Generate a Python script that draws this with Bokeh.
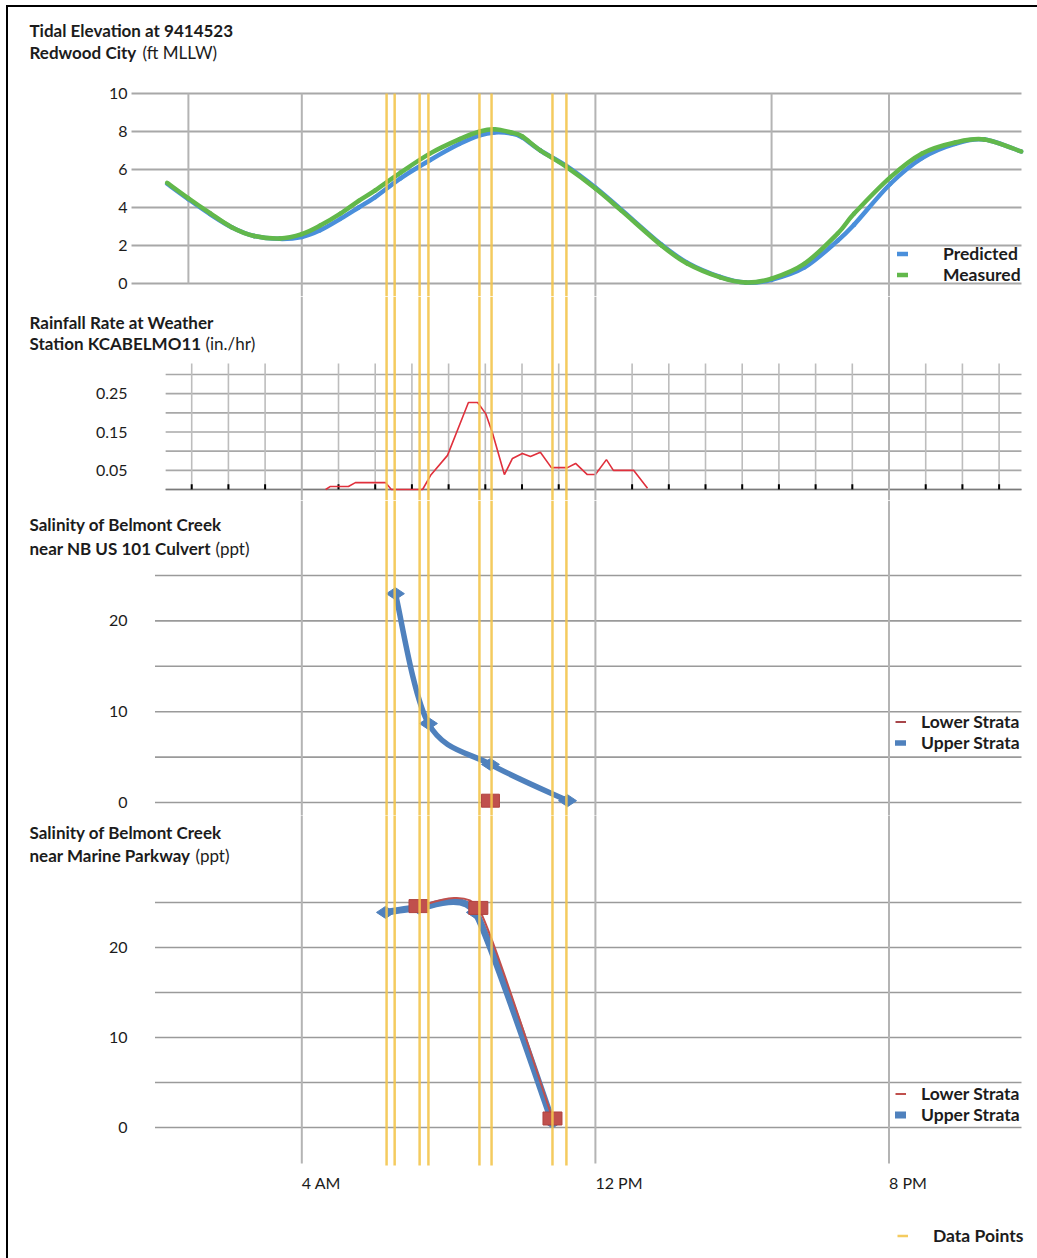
import numpy as np
from bokeh.plotting import figure
from bokeh.layouts import column
from bokeh.models import (Range1d, FixedTicker, Label, Legend, LegendItem, Span,
                          ColumnDataSource, LinearAxis)
from bokeh.embed import file_html
from bokeh.resources import INLINE

# ---------------- data (hours after midnight) ----------------
tide_hours = [0.33, 0.9, 1.5, 2.1, 2.7, 3.4, 4.0, 4.5, 5.05, 5.55, 6.0, 6.7,
              7.5, 8.3, 8.85, 9.25, 9.7, 10.0, 10.5, 11.2, 12.0, 12.7, 13.8, 14.5,
              15.4, 16.1, 16.8, 17.7, 18.6, 19.05, 20.04, 20.9, 21.8, 22.6, 23.6]
tide_measured = [5.3, 4.5, 3.7, 2.95, 2.5, 2.37, 2.6, 3.05, 3.68, 4.35, 4.9, 5.85,
                 6.85, 7.6, 8.0, 8.12, 7.95, 7.75, 7.0, 6.15, 5.0, 3.85, 2.0, 1.05,
                 0.32, 0.05, 0.26, 1.05, 2.63, 3.68, 5.6, 6.84, 7.42, 7.58, 6.95]
tide_predicted = [5.25, 4.45, 3.65, 2.95, 2.5, 2.35, 2.45, 2.8, 3.4, 4.0, 4.55, 5.55,
                  6.5, 7.35, 7.8, 7.95, 7.9, 7.7, 7.0, 6.2, 5.05, 3.9, 2.05, 1.1,
                  0.35, 0.05, 0.2, 0.85, 2.25, 3.1, 5.25, 6.6, 7.35, 7.58, 6.95]

rain_hours = [4.65, 4.78, 5.27, 5.46, 6.28, 6.44, 7.29, 7.51, 7.97, 8.54, 8.79, 9.01,
              9.20, 9.52, 9.74, 10.01, 10.23, 10.5, 10.8, 11.24, 11.46, 11.78, 12.0,
              12.3, 12.49, 13.04, 13.42]
rain_rate = [0.0, 0.008, 0.008, 0.018, 0.018, 0.0, 0.0, 0.037, 0.089, 0.227, 0.227, 0.198,
             0.146, 0.039, 0.081, 0.094, 0.086, 0.097, 0.057, 0.057, 0.068, 0.039, 0.039,
             0.078, 0.05, 0.05, 0.003]

culvert_upper_hours = [6.55, 7.45, 9.14, 11.24]
culvert_upper = [23.0, 8.7, 4.2, 0.2]
culvert_lower_hours = [9.14]
culvert_lower = [0.2]

marine_upper_hours = [6.28, 7.18, 8.73, 10.83]
marine_upper = [23.9, 24.4, 23.9, 0.6]
marine_lower_hours = [7.18, 8.81, 10.83]
marine_lower = [24.6, 24.4, 1.0]

sample_hours = [6.31, 6.53, 7.21, 7.45, 8.84, 9.17, 10.83, 11.21]

time_ticks = [4, 12, 20]
time_labels = ["4 AM", "12 PM", "8 PM"]

tide_ticks = [0, 2, 4, 6, 8, 10]
rain_ticks = [0.05, 0.15, 0.25]
rain_grid = [0, 0.05, 0.1, 0.15, 0.2, 0.25, 0.3]
sal_ticks = [0, 10, 20]
sal_grid = [0, 5, 10, 15, 20, 25]
tide_extra_vlines = [0.91, 16.8]
rain_hour_lines = [h for h in range(1, 24) if h not in time_ticks]

# ---------------- style / geometry ----------------
FONT = "Lato"
TXT = "#1c1c1c"
GRID = "#a8a8a8"
MAIN = "#b4b4b4"
YEL = "#f3c54e"
BLUE = "#4f81bd"
RED = "#c0504d"
FIG_W = 1029
X0, X1 = -3.992, 24.046        # full-width frame
AX_X = -0.64                   # where the value axes sit
GR_END = 23.61                 # right end of grid lines
xr = Range1d(X0, X1)


def smooth(xs, ys, k):
    n = len(xs)
    d = dict(x0=[], y0=[], x1=[], y1=[], cx0=[], cy0=[], cx1=[], cy1=[])
    for i in range(n - 1):
        a = i - 1 if i > 0 else i
        b = i + 2 if i + 2 < n else i + 1
        d["x0"].append(xs[i]); d["y0"].append(ys[i])
        d["x1"].append(xs[i + 1]); d["y1"].append(ys[i + 1])
        d["cx0"].append(xs[i] + (xs[i + 1] - xs[a]) * k)
        d["cy0"].append(ys[i] + (ys[i + 1] - ys[a]) * k)
        d["cx1"].append(xs[i + 1] - (xs[b] - xs[i]) * k)
        d["cy1"].append(ys[i + 1] - (ys[b] - ys[i]) * k)
    return ColumnDataSource(d)


def style_axis(ax):
    ax.axis_line_color = None
    ax.major_tick_line_color = None
    ax.minor_tick_line_color = None
    ax.major_tick_out = 0
    ax.major_tick_in = 0
    ax.minor_tick_out = 0
    ax.minor_tick_in = 0
    ax.major_label_text_font = FONT
    ax.major_label_text_font_size = "16px"
    ax.major_label_text_color = TXT


def make_fig(height, y0, y1, ticks):
    p = figure(width=FIG_W, height=height, x_range=xr, y_range=Range1d(y0, y1),
               output_backend="svg", toolbar_location=None,
               min_border_left=0, min_border_right=0, min_border_top=0,
               min_border_bottom=0, x_axis_location=None, y_axis_location=None)
    p.outline_line_color = None
    p.xgrid.visible = False
    p.ygrid.visible = False
    p.background_fill_color = "white"
    ax = LinearAxis(ticker=FixedTicker(ticks=ticks), fixed_location=AX_X)
    style_axis(ax)
    ax.major_label_standoff = 4
    p.add_layout(ax, "left")
    return p


def title(p, frame_bottom, rows):
    for text, px, py, bold in rows:
        p.add_layout(Label(x=px - 8, y=frame_bottom - py, x_units="screen", y_units="screen",
                           text=text, text_font=FONT, text_font_size="17px",
                           text_font_style="bold" if bold else "normal",
                           text_baseline="middle", text_align="left", text_color=TXT))


def legend(p, items, x, y, standoff):
    lg = Legend(items=items, location=(x, y), orientation="vertical", glyph_width=11,
                glyph_height=19, label_height=19, label_standoff=standoff, spacing=0,
                padding=0, margin=0, border_line_color=None, background_fill_alpha=0,
                label_text_font=FONT, label_text_font_style="bold",
                label_text_font_size="17.5px", label_text_color=TXT)
    p.add_layout(lg)


def hgrid(p, start, levels, color, width):
    p.segment(x0=[start] * len(levels), x1=[GR_END] * len(levels), y0=levels, y1=levels,
              line_color=color, line_width=width)


# ---------------- 1. tidal elevation ----------------
p1 = make_fig(289, -0.684, 14.526, tide_ticks)
hgrid(p1, AX_X, tide_ticks, GRID, 2)
p1.segment(x0=tide_extra_vlines, x1=tide_extra_vlines, y0=[0, 0], y1=[10, 10],
           line_color=MAIN, line_width=2)
p1.segment(x0=time_ticks, x1=time_ticks, y0=[10] * 3, y1=[-5] * 3, line_color=MAIN, line_width=2)
r_pred = p1.bezier("x0", "y0", "x1", "y1", "cx0", "cy0", "cx1", "cy1",
                   source=smooth(tide_hours, tide_predicted, 1 / 6),
                   line_color="#4a8fdb", line_width=4.5, line_cap="round")
r_meas = p1.bezier("x0", "y0", "x1", "y1", "cx0", "cy0", "cx1", "cy1",
                   source=smooth(tide_hours, tide_measured, 1 / 6),
                   line_color="#62b84b", line_width=4.5, line_cap="round")
p1.segment(x0=sample_hours, x1=sample_hours, y0=[10] * 8, y1=[-5] * 8,
           line_color=YEL, line_width=2.5, line_alpha=0.9)
title(p1, 296, [("Tidal Elevation at 9414523", 29, 30, True),
                ("Redwood City", 29, 52, True), ("(ft MLLW)", 142, 52, False)])
legend(p1, [LegendItem(label="Predicted", renderers=[r_pred]),
            LegendItem(label="Measured", renderers=[r_meas])], 889, 11, 35)

# ---------------- 2. rainfall ----------------
p2 = make_fig(204, -0.0287, 0.5035, rain_ticks)
hgrid(p2, 0.29, rain_grid, GRID, 1.6)
hgrid(p2, 0.29, [0], "#7a7a7a", 1.6)
p2.segment(x0=rain_hour_lines, x1=rain_hour_lines, y0=[0] * len(rain_hour_lines),
           y1=[0.329] * len(rain_hour_lines), line_color="#bdbdbd", line_width=1.6)
p2.segment(x0=rain_hour_lines, x1=rain_hour_lines, y0=[0] * len(rain_hour_lines),
           y1=[0.014] * len(rain_hour_lines), line_color="black", line_width=2)
for h in time_ticks:
    p2.add_layout(Span(location=h, dimension="height", line_color=MAIN, line_width=2))
p2.line(rain_hours, rain_rate, line_color="#e0303c", line_width=1.6)
for h in sample_hours:
    p2.add_layout(Span(location=h, dimension="height", line_color=YEL, line_width=2.5,
                       line_alpha=0.9))
title(p2, 500, [("Rainfall Rate at Weather", 29, 322, True),
                ("Station KCABELMO11", 29, 343, True), ("(in./hr)", 205, 343, False)])

# ---------------- 3. salinity near NB US 101 culvert ----------------
p3 = make_fig(315, -1.43, 33.26, sal_ticks)
hgrid(p3, 0, sal_grid, "#9a9a9a", 1.6)
for h in time_ticks:
    p3.add_layout(Span(location=h, dimension="height", line_color=MAIN, line_width=2))
r3u = p3.bezier("x0", "y0", "x1", "y1", "cx0", "cy0", "cx1", "cy1",
                source=smooth(culvert_upper_hours, culvert_upper, 0.16),
                line_color=BLUE, line_width=5.5, line_cap="round")
p3.scatter(culvert_upper_hours, culvert_upper, marker="diamond", size=18, angle=np.pi / 2,
           fill_color=BLUE, line_color=BLUE)
r3l = p3.line(culvert_lower_hours, culvert_lower, line_color="#a8464a", line_width=2)
p3.rect(culvert_lower_hours, culvert_lower, width=18, height=13, width_units="screen",
        height_units="screen", fill_color=RED, line_color="#b0433f")
for h in sample_hours:
    p3.add_layout(Span(location=h, dimension="height", line_color=YEL, line_width=2.5,
                       line_alpha=0.9))
title(p3, 815, [("Salinity of Belmont Creek", 29, 524, True),
                ("near NB US 101 Culvert", 29, 548, True), ("(ppt)", 215, 548, False)])
legend(p3, [LegendItem(label="Lower Strata", renderers=[r3l]),
            LegendItem(label="Upper Strata", renderers=[r3u])], 887, 62, 15)

# ---------------- 4. salinity near Marine Parkway + time axis ----------------
p4 = make_fig(443, -14.556, 34.667, sal_ticks)
xa = LinearAxis(ticker=FixedTicker(ticks=time_ticks), fixed_location=-4.222)
style_axis(xa)
xa.major_label_overrides = dict(zip(time_ticks, time_labels))
xa.major_label_orientation = -0.0001
xa.major_label_standoff = 17
p4.add_layout(xa, "below")
hgrid(p4, 0, sal_grid, "#9a9a9a", 1.6)
p4.segment(x0=time_ticks, x1=time_ticks, y0=[40] * 3, y1=[-4.0] * 3, line_color=MAIN, line_width=2)
r4u = p4.bezier("x0", "y0", "x1", "y1", "cx0", "cy0", "cx1", "cy1",
                source=smooth(marine_upper_hours, marine_upper, 0.1),
                line_color=BLUE, line_width=7, line_cap="round")
p4.scatter(marine_upper_hours, marine_upper, marker="diamond", size=18, angle=np.pi / 2,
           fill_color=BLUE, line_color=BLUE)
r4l = p4.bezier("x0", "y0", "x1", "y1", "cx0", "cy0", "cx1", "cy1",
                source=smooth(marine_lower_hours, marine_lower, 0.1),
                line_color="#c0504d", line_width=2)
p4.rect(marine_lower_hours, marine_lower, width=19, height=13, width_units="screen",
        height_units="screen", fill_color=RED, line_color="#b0433f")
r4y = p4.segment(x0=sample_hours, x1=sample_hours, y0=[40] * 8, y1=[-4.222] * 8,
                 line_color=YEL, line_width=2.5, line_alpha=0.9)
title(p4, 1258, [("Salinity of Belmont Creek", 29, 832, True),
                 ("near Marine Parkway", 29, 855, True), ("(ppt)", 195, 855, False)])
legend(p4, [LegendItem(label="Lower Strata", renderers=[r4l]),
            LegendItem(label="Upper Strata", renderers=[r4u])], 887, 133, 15)
legend(p4, [LegendItem(label="Data Points", renderers=[r4y])], 889, 12.5, 25)

layout = column(p1, p2, p3, p4,
                styles={"border-left": "2px solid black", "border-top": "2px solid black",
                        "margin-left": "6px", "margin-top": "5px"})

open("out.html", "w").write(file_html(layout, INLINE))
